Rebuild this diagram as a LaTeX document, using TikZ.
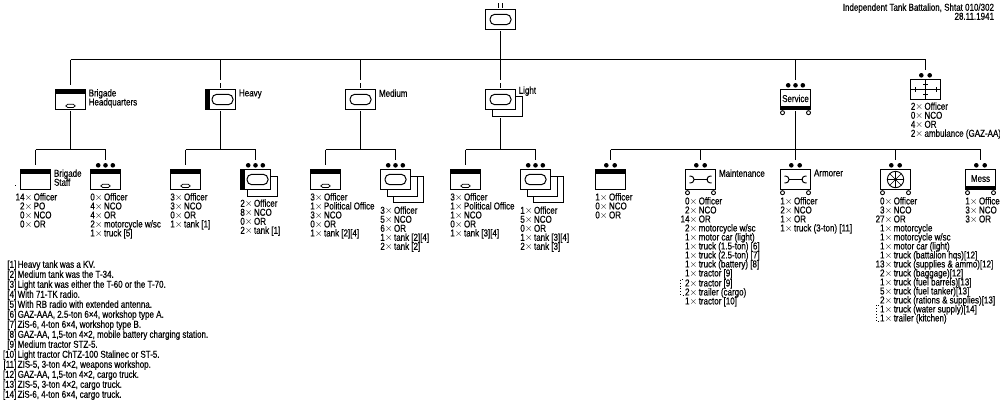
\documentclass[tikz,border=0pt]{standalone}
\usepackage{fontspec}
\setmainfont{Liberation Sans}[FakeStretch=0.8,FakeBold=0.4]
\usetikzlibrary{calc}

% lets the fixed line pitch hold even where brackets reach past it
\newcommand\fixedpitch{\lineskiplimit=-5pt\relax}

\tikzset{
  unitbox/.style={draw=black,line width=1pt,fill=white,minimum width=30pt,minimum height=20pt,inner sep=0pt,outer sep=0pt},
  link/.style={line width=1pt,line cap=butt},
  frombox/.style={shorten <=1.5pt},
  fromshadow/.style={shorten <=8.5pt},
  toplain/.style={shorten >=4.5pt},
  torank/.style={shorten >=9.5pt},
  shade line/.style={line width=1pt},
  txt/.style={inner sep=0pt,outer sep=0pt,anchor=north west,align=left,font=\fontsize{10}{9}\selectfont\fixedpitch},
  notes/.style={inner sep=0pt,outer sep=0pt,anchor=north west,align=left,font=\fontsize{10}{10}\selectfont\fixedpitch},
  caption/.style={inner sep=0pt,outer sep=0pt,align=center,font=\fontsize{10}{9}\selectfont\fixedpitch}
}

% one line of a personnel/equipment list: count column, then the item
\newcommand\linestrut{\rule{0pt}{7pt}\rule[-2pt]{0pt}{2pt}}
\newcommand\rr[2]{\linestrut\hbox to 14pt{\hss #1$\times$\hspace{1.4pt}}#2}
\newcommand\fn[2]{\linestrut\hbox to 17.7pt{\hss[#1]\hspace{1.4pt}}#2}
% list block placed by the vertical centre of its first line
\newcommand\roster[4]{\node[txt] (#1) at (#2,#3-3.5) {#4};}
% box decorations, all relative to a named box
\newcommand\topbar[1]{\fill (#1.north west) rectangle ($(#1.north east)+(0,4)$);}
\newcommand\bottombar[1]{\fill ($(#1.south west)+(0,-3.5)$) rectangle (#1.south east);}
\newcommand\leftbar[1]{\fill (#1.north west) rectangle ($(#1.south west)+(4,0)$);}
\newcommand\bigoval[2]{\draw[line width=1pt,rounded corners=4.8pt] ($(#1.center)+(#2-10.5,-5.2)$) rectangle ($(#1.center)+(#2+10.5,5.2)$);}
\newcommand\smalloval[1]{\draw[line width=.8pt,rounded corners=1.6pt] ($(#1.south)+(-4.5,-5.2)$) rectangle ($(#1.south)+(4.5,-2)$);}
\newcommand\dotsthree[1]{\foreach \d in {-7.3,0,7.3}{\fill ($(#1.north)+(\d,-4.2)$) circle (2.3pt);}}
\newcommand\dotstwo[1]{\foreach \d in {-4.2,4.2}{\fill ($(#1.north)+(\d,-4.2)$) circle (2.3pt);}}
\newcommand\wheels[1]{\foreach \d in {-13,13}{\draw[line width=.9pt,fill=white] ($(#1.south)+(\d,3.2)$) circle (2pt);}}
\newcommand\backframe[2]{\draw[shade line] ($(#1.north east)+(0,#2)$) -- ($(#1.north east)+(#2,#2)$) -- ($(#1.south east)+(#2,#2)$) -- ($(#1.south west)+(#2,#2)$) -- ($(#1.south west)+(#2,0)$);}
\newcommand\thirdframe[1]{\draw[shade line] ($(#1.north east)+(6.5,6.5)$) -- ($(#1.north east)+(12.5,6.5)$) -- ($(#1.south east)+(12.5,12.5)$) -- ($(#1.south west)+(12.5,12.5)$) -- ($(#1.south west)+(12.5,6.5)$);}
\newcommand\wrench[1]{
  \begin{scope}[shift={(#1.center)}]
    \draw[line width=1pt] (-7,0) -- (7,0);
    \draw[line width=1pt] (-11,-3.5) .. controls (-7.5,-3.5) and (-6.5,-1.5) .. (-6.5,0) .. controls (-6.5,1.5) and (-7.5,3.5) .. (-11,3.5);
    \draw[line width=1pt] (11,-3.5) .. controls (7.5,-3.5) and (6.5,-1.5) .. (6.5,0) .. controls (6.5,1.5) and (7.5,3.5) .. (11,3.5);
  \end{scope}}
\newcommand\spokewheel[1]{
  \begin{scope}[shift={(#1.center)}]
    \draw[line width=.9pt] (0,0) circle (8.2pt);
    \foreach \a in {0,45,...,315}{\draw[line width=.6pt] (0,0) -- (\a:8.2);}
    \fill (0,0) circle (1.5pt);
  \end{scope}}
\newcommand\medical[1]{
  \begin{scope}[shift={(#1.center)}]
    \draw[line width=1pt] (-15,0) -- (15,0) (0,-10) -- (0,10);
    \draw[line width=1pt] (-10.5,-2.5) -- (-10.5,2.5) (10.5,-2.5) -- (10.5,2.5);
    \draw[line width=1pt] (-2.5,-5) -- (2.5,-5) (-2.5,5) -- (2.5,5);
  \end{scope}}
\newcommand\ranktick[2]{\draw[link] ($(#1.north)+(#2,-6.5)$) -- ($(#1.north)+(#2,-2)$);}
\newcommand\dottedbracket[3]{\draw[line width=.9pt,dotted] (#1+2.5,#2) -- (#1,#2) -- (#1,#3) -- (#1+2.5,#3);}

\begin{document}
\begin{tikzpicture}[x=1pt,y=-1pt]
\useasboundingbox (0,0) rectangle (1000,400);
\fill[white] (0,0) rectangle (1000,400);
\clip (0,0) rectangle (1000,400);

% the boxes
\node[unitbox] (top) at (500.5,19.5) {};
\node[unitbox] (hq) at (70.5,99.5) {};
\node[unitbox] (heavy) at (220.5,99.5) {};
\node[unitbox] (medium) at (360.5,99.5) {};
\node[unitbox] (light) at (500.5,99.5) {};
\backframe{light}{6.5}
\node[unitbox] (service) at (795.5,99.5) {};
\node[unitbox] (medic) at (925.5,89.5) {};

\node[unitbox] (staff) at (35.5,179.5) {};
\node[unitbox] (hqplatoon) at (105.5,179.5) {};
\node[unitbox] (heavyhq) at (185.5,179.5) {};
\node[unitbox] (heavytanks) at (255.5,179.5) {};
\backframe{heavytanks}{6.5}
\node[unitbox] (mediumhq) at (325.5,179.5) {};
\node[unitbox] (mediumtanks) at (395.5,179.5) {};
\backframe{mediumtanks}{6.5}
\thirdframe{mediumtanks}
\node[unitbox] (lighthq) at (465.5,179.5) {};
\node[unitbox] (lighttanks) at (535.5,179.5) {};
\backframe{lighttanks}{6.5}
\thirdframe{lighttanks}
\node[unitbox] (servicehq) at (610.5,179.5) {};
\node[unitbox] (maint) at (700.5,179.5) {};
\node[unitbox] (armorer) at (795.5,179.5) {};
\node[unitbox] (supply) at (895.5,179.5) {};
\node[unitbox] (mess) at (980.5,179.5) {};

% symbols inside and around the boxes
\bigoval{top}{0} \ranktick{top}{-2} \ranktick{top}{2}
\topbar{hq} \smalloval{hq}
\leftbar{heavy} \bigoval{heavy}{2} \ranktick{heavy}{0}
\bigoval{medium}{0} \ranktick{medium}{0}
\bigoval{light}{0} \ranktick{light}{0}
\bottombar{service} \dotsthree{service} \wheels{service}
\medical{medic} \dotstwo{medic}
\topbar{staff}
\topbar{hqplatoon} \smalloval{hqplatoon} \dotsthree{hqplatoon}
\topbar{heavyhq} \smalloval{heavyhq}
\leftbar{heavytanks} \bigoval{heavytanks}{2} \dotsthree{heavytanks}
\topbar{mediumhq} \smalloval{mediumhq}
\bigoval{mediumtanks}{0} \dotsthree{mediumtanks}
\topbar{lighthq} \smalloval{lighthq}
\bigoval{lighttanks}{0} \dotsthree{lighttanks}
\topbar{servicehq} \dotstwo{servicehq}
\wrench{maint} \dotstwo{maint} \wheels{maint}
\wrench{armorer} \dotstwo{armorer} \wheels{armorer}
\spokewheel{supply} \dotstwo{supply} \wheels{supply}
\bottombar{mess} \dotstwo{mess} \wheels{mess}
\fill (15,184.5) rectangle (16,185.5);

% connectors
\coordinate (busmain) at (500.5,59.5);
\coordinate (bushq) at (70.5,149.5);
\coordinate (busheavy) at (220.5,149.5);
\coordinate (busmedium) at (360.5,149.5);
\coordinate (buslight) at (500.5,149.5);
\coordinate (busservice) at (795.5,149.5);

\draw[link] (hq.north |- busmain) -- (medic.north |- busmain);
\draw[link,frombox] (top.south) -- (top.south |- busmain);
\draw[link,toplain] (hq.north |- busmain) -- (hq.north);
\draw[link,torank] (heavy.north |- busmain) -- (heavy.north);
\draw[link,torank] (medium.north |- busmain) -- (medium.north);
\draw[link,torank] (light.north |- busmain) -- (light.north);
\draw[link,torank] (service.north |- busmain) -- (service.north);
\draw[link,torank] (medic.north |- busmain) -- (medic.north);

\draw[link,frombox] (hq.south) -- (bushq);
\draw[link] (staff.north |- bushq) -- (hqplatoon.north |- bushq);
\draw[link,toplain] (staff.north |- bushq) -- (staff.north);
\draw[link,torank] (hqplatoon.north |- bushq) -- (hqplatoon.north);

\draw[link,frombox] (heavy.south) -- (busheavy);
\draw[link] (heavyhq.north |- busheavy) -- (heavytanks.north |- busheavy);
\draw[link,toplain] (heavyhq.north |- busheavy) -- (heavyhq.north);
\draw[link,torank] (heavytanks.north |- busheavy) -- (heavytanks.north);

\draw[link,frombox] (medium.south) -- (busmedium);
\draw[link] (mediumhq.north |- busmedium) -- (mediumtanks.north |- busmedium);
\draw[link,toplain] (mediumhq.north |- busmedium) -- (mediumhq.north);
\draw[link,torank] (mediumtanks.north |- busmedium) -- (mediumtanks.north);

\draw[link,fromshadow] (light.south) -- (buslight);
\draw[link] (lighthq.north |- buslight) -- (lighttanks.north |- buslight);
\draw[link,toplain] (lighthq.north |- buslight) -- (lighthq.north);
\draw[link,torank] (lighttanks.north |- buslight) -- (lighttanks.north);

\draw[link,frombox] (service.south) -- (busservice);
\draw[link] (servicehq.north |- busservice) -- (mess.north |- busservice);
\draw[link,torank] (servicehq.north |- busservice) -- (servicehq.north);
\draw[link,torank] (maint.north |- busservice) -- (maint.north);
\draw[link,torank] (armorer.north |- busservice) -- (armorer.north);
\draw[link,torank] (supply.north |- busservice) -- (supply.north);
\draw[link,torank] (mess.north |- busservice) -- (mess.north);

% unit names
\node[txt] (titlea) at (88.7,89.2) {\linestrut Brigade\\\linestrut Headquarters};
\node[txt] (lblheavy) at (239,89.5) {Heavy};
\node[txt] (lblmedium) at (379,89.5) {Medium};
\node[txt] (lbllight) at (518.7,86.5) {Light};
\node[caption,yshift=1pt] (lblservice) at (service.center) {Service};
\node[caption,yshift=1pt] (lblmess) at (mess.center) {Mess};
\node[txt] (lblstaff) at (54,169.5) {\linestrut Brigade\\\linestrut Staff};
\node[txt] (lblmaint) at (719,169.5) {Maintenance};
\node[txt] (lblarmorer) at (814,169.5) {Armorer};

% heading
\node[caption,anchor=north east,align=right] (heading) at (994,3.5)
  {\linestrut Independent Tank Battalion, Shtat 010/302\\\linestrut 28.11.1941};

% strengths
\roster{rstaff}{19.7}{196.7}{\rr{14}{Officer}\\\rr{2}{PO}\\\rr{0}{NCO}\\\rr{0}{OR}}
\roster{rhq}{90}{196.7}{\rr{0}{Officer}\\\rr{4}{NCO}\\\rr{4}{OR}\\\rr{2}{motorcycle w/sc}\\\rr{1}{truck [5]}}
\roster{rheavyhq}{170}{196.7}{\rr{3}{Officer}\\\rr{3}{NCO}\\\rr{0}{OR}\\\rr{1}{tank [1]}}
\roster{rheavyt}{240}{203}{\rr{2}{Officer}\\\rr{8}{NCO}\\\rr{0}{OR}\\\rr{2}{tank [1]}}
\roster{rmedhq}{310}{196.7}{\rr{3}{Officer}\\\rr{1}{Political Office}\\\rr{3}{NCO}\\\rr{0}{OR}\\\rr{1}{tank [2][4]}}
\roster{rmedt}{380}{210}{\rr{3}{Officer}\\\rr{5}{NCO}\\\rr{6}{OR}\\\rr{1}{tank [2][4]}\\\rr{2}{tank [2]}}
\roster{rlighthq}{450}{196.7}{\rr{3}{Officer}\\\rr{1}{Political Office}\\\rr{1}{NCO}\\\rr{0}{OR}\\\rr{1}{tank [3][4]}}
\roster{rlightt}{520}{210}{\rr{1}{Officer}\\\rr{5}{NCO}\\\rr{0}{OR}\\\rr{1}{tank [3][4]}\\\rr{2}{tank [3]}}
\roster{rservhq}{595}{196.7}{\rr{1}{Officer}\\\rr{0}{NCO}\\\rr{0}{OR}}
\roster{rmedic}{910.5}{106}{\rr{2}{Officer}\\\rr{0}{NCO}\\\rr{4}{OR}\\\rr{2}{ambulance (GAZ-AA)}}
\roster{rmaint}{684.7}{200.7}{\rr{0}{Officer}\\\rr{2}{NCO}\\\rr{14}{OR}\\\rr{2}{motorcycle w/sc}\\\rr{1}{motor car (light)}\\\rr{1}{truck (1.5-ton) [6]}\\\rr{1}{truck (2.5-ton) [7]}\\\rr{1}{truck (battery) [8]}\\\rr{1}{tractor [9]}}
\roster{rmaintb}{684.7}{282.7}{\rr{2}{tractor [9]}\\\rr{2}{trailer (cargo)}\\\rr{1}{tractor [10]}}
\dottedbracket{680.7}{279.3}{295.3}
\roster{rarm}{780}{200.7}{\rr{1}{Officer}\\\rr{2}{NCO}\\\rr{1}{OR}\\\rr{1}{truck (3-ton) [11]}}
\roster{rsupply}{879.7}{200.7}{\rr{0}{Officer}\\\rr{3}{NCO}\\\rr{27}{OR}\\\rr{1}{motorcycle}\\\rr{1}{motorcycle w/sc}\\\rr{1}{motor car (light)}\\\rr{1}{truck (battalion hqs)[12]}\\\rr{13}{truck (supplies \& ammo)[12]}\\\rr{2}{truck (baggage)[12]}\\\rr{1}{truck (fuel barrels)[13]}\\\rr{5}{truck (fuel tanker)[13]}\\\rr{2}{truck (rations \& supplies)[13]}\\\rr{1}{truck (water supply)[14]}\\\rr{1}{trailer (kitchen)}}
\dottedbracket{876}{305}{321}
\roster{rmess}{965}{200.7}{\rr{1}{Office}\\\rr{3}{NCO}\\\rr{3}{OR}}

% footnotes
\node[notes] (footnotes) at (0,260.5) {\fn{1}{Heavy tank was a KV.}\\
\fn{2}{Medium tank was the T-34.}\\
\fn{3}{Light tank was either the T-60 or the T-70.}\\
\fn{4}{With 71-TK radio.}\\
\fn{5}{With RB radio with extended antenna.}\\
\fn{6}{GAZ-AAA, 2.5-ton 6×4, workshop type A.}\\
\fn{7}{ZiS-6, 4-ton 6×4, workshop type B.}\\
\fn{8}{GAZ-AA, 1,5-ton 4×2, mobile battery charging station.}\\
\fn{9}{Medium tractor STZ-5.}\\
\fn{10}{Light tractor ChTZ-100 Stalinec or ST-5.}\\
\fn{11}{ZIS-5, 3-ton 4×2, weapons workshop.}\\
\fn{12}{GAZ-AA, 1,5-ton 4×2, cargo truck.}\\
\fn{13}{ZIS-5, 3-ton 4×2, cargo truck.}\\
\fn{14}{ZiS-6, 4-ton 6×4, cargo truck.}};
\end{tikzpicture}
\end{document}
